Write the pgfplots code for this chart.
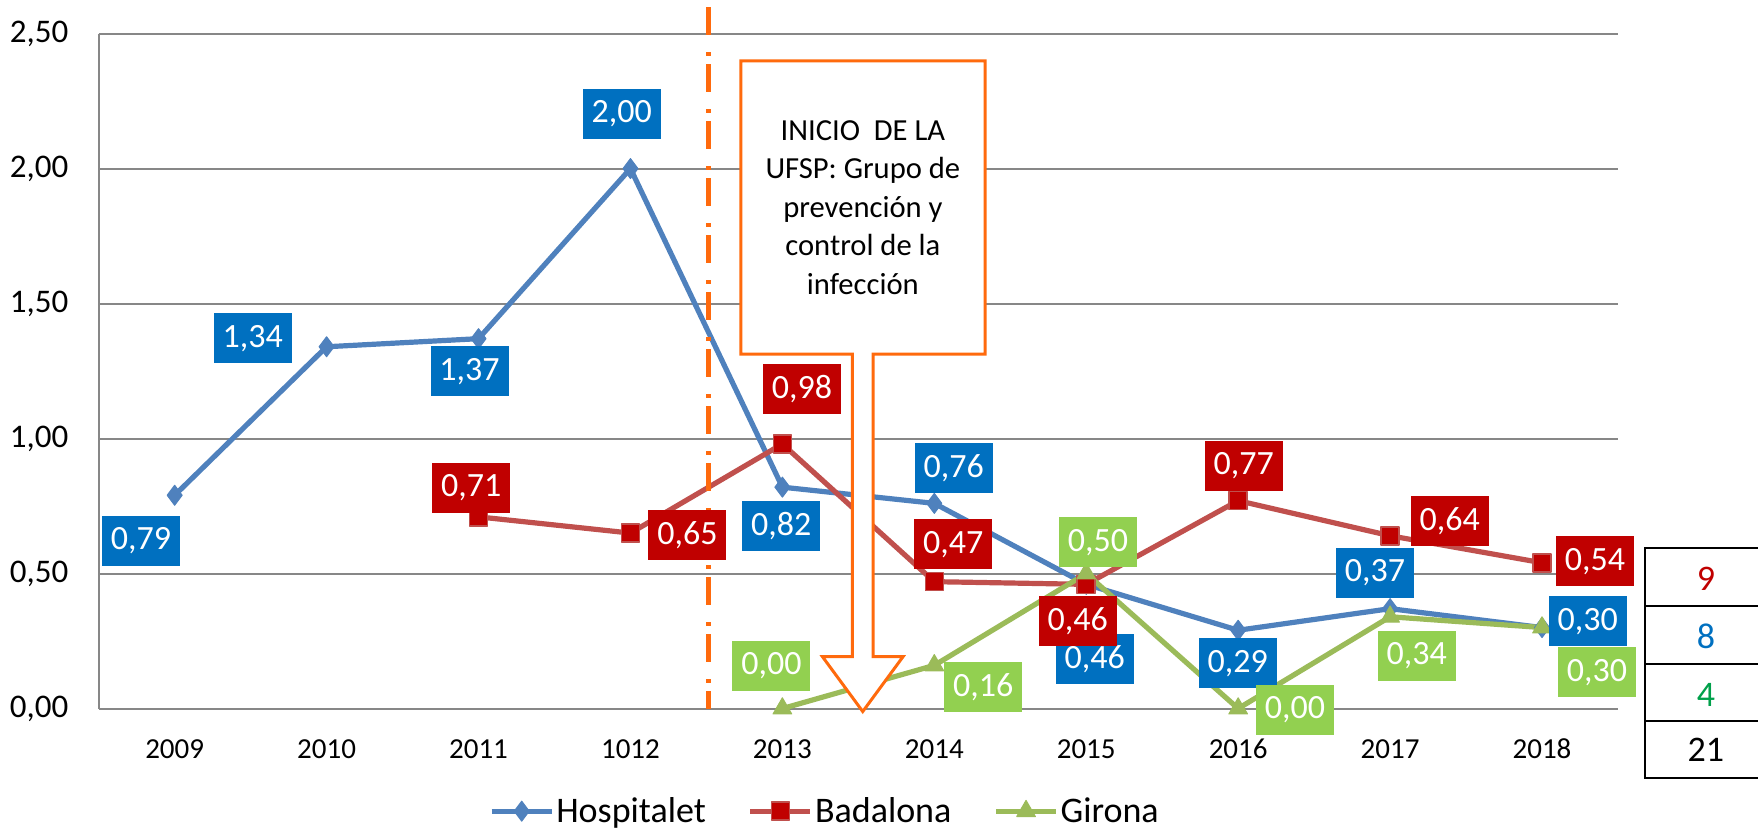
\documentclass[border=0pt]{standalone}
\usepackage{pgfplots}
\pgfplotsset{compat=1.18}
\usepackage{pgfplotstable}
\usepackage{fontspec}
\setmainfont{Carlito}

\definecolor{hospline}{HTML}{4F81BD}
\definecolor{hospbox}{HTML}{0070C0}
\definecolor{badline}{HTML}{C0504D}
\definecolor{badbox}{HTML}{C00000}
\definecolor{girline}{HTML}{9BBB59}
\definecolor{girbox}{HTML}{92D050}
\definecolor{tabgreen}{HTML}{00A04A}
\definecolor{callout}{HTML}{FF6A0D}
\definecolor{gridgray}{HTML}{878787}

% x = year index, dx/dy = label offset (pt)
\pgfplotstableread{
x y dx dy
0 0.79 -16.8 -22.8
1 1.34 -36.9 4.3
2 1.37 -4.5 -16.3
3 2.00 -4.4 27.3
4 0.82 -0.6 -19.6
5 0.76 9.7 17.7
6 0.46 4.3 -37.5
7 0.29 -0.2 -16.5
8 0.37 -7.6 18.0
9 0.30 22.9 3.2
}\hospitalet
\pgfplotstableread{
x y dx dy
2 0.71 -3.6 14.4
3 0.65 28.5 -1.1
4 0.98 9.8 27.3
5 0.47 9.5 18.7
6 0.46 -4.3 -18.2
7 0.77 2.8 17.5
8 0.64 29.8 7.2
9 0.54 26.5 0.7
}\badalona
\pgfplotstableread{
x y dx dy
4 0.00 -5.5 21.4
5 0.16 24.5 -10.8
6 0.50 5.9 15.6
7 0.00 28.4 -0.6
8 0.34 13.3 -19.4
9 0.30 27.5 -22.3
}\girona

\tikzset{
  lbl/.style={draw=none, text=white, font=\fontsize{17}{20}\selectfont,
    inner sep=0pt, minimum width=39pt, minimum height=25pt, anchor=center},
}
\pgfplotsset{
  labels/.style={draw=none, mark=none, forget plot, point meta=y,
    nodes near coords,
    visualization depends on={\thisrow{dx}\as\dx},
    visualization depends on={\thisrow{dy}\as\dy},
    every node near coord/.append style={lbl, fill=#1, xshift=\dx pt, yshift=\dy pt}},
}

\begin{document}
\begin{tikzpicture}
\begin{axis}[
  at={(0,0)}, anchor=south west,
  scale only axis, width=759.65pt, height=337.5pt,
  xmin=-0.5, xmax=9.5, ymin=0, ymax=2.5,
  clip=false,
  axis lines=left,
  axis line style={-, draw=gridgray, line width=1pt},
  xtick={0,...,9},
  xticklabels={2009,2010,2011,1012,2013,2014,2015,2016,2017,2018},
  ytick={0,0.5,1,1.5,2,2.5},
  major tick length=0pt,
  ymajorgrids, grid style={draw=gridgray, line width=1pt},
  /pgf/number format/.cd, fixed, fixed zerofill, precision=2, use comma, assume math mode=true,
  /pgfplots/.cd,
  yticklabel style={font=\fontsize{16.5}{19}\selectfont, inner sep=0pt, anchor=east, xshift=-15pt},
  xticklabel style={font=\fontsize{14.5}{17}\selectfont, inner sep=0pt, anchor=center, yshift=-20.2pt},
  legend columns=3,
  legend style={at={(0.478,-0.152)}, anchor=center, draw=none, fill=none,
    font=\fontsize{18}{21}\selectfont, nodes={inner sep=1pt},
    /tikz/every even column/.append style={column sep=20pt}},
  legend image code/.code={\draw[mark repeat=2, mark phase=2]
    plot coordinates {(0pt,0pt) (15pt,0pt) (30pt,0pt)};},
]
\addplot[color=hospline, line width=2.6pt, line join=round, mark=diamond*, mark size=5pt,
  mark options={fill=hospline, draw=hospline, line width=0.5pt}]
  table[x=x, y=y] {\hospitalet};
\addlegendentry{Hospitalet}
\addplot[color=badline, line width=2.6pt, line join=round, mark=square*, mark size=4.5pt,
  mark options={fill=badbox, draw=badline, line width=0.8pt}]
  table[x=x, y=y] {\badalona};
\addlegendentry{Badalona}
\addplot[color=girline, line width=2.6pt, line join=round, mark=triangle*, mark size=5.4pt,
  mark options={fill=girline, draw=girline, line width=0.5pt}]
  table[x=x, y=y] {\girona};
\addlegendentry{Girona}

\addplot[labels=hospbox] table[x=x, y=y] {\hospitalet};
\addplot[labels=badbox] table[x=x, y=y] {\badalona};
\addplot[labels=girbox] table[x=x, y=y] {\girona};

% start of the UFSP
\draw[callout, line width=2.4pt, dash pattern=on 14pt off 8.5pt on 2pt off 4pt]
  (axis cs:3.512,2.598) -- (axis cs:3.512,0);
\draw[callout, line width=1.5pt, fill=white, line join=miter]
  (axis cs:3.726,2.399) -- (axis cs:5.334,2.399) -- (axis cs:5.334,1.313)
  -- (axis cs:4.598,1.313) -- (axis cs:4.598,0.192) -- (axis cs:4.794,0.192)
  -- (axis cs:4.529,-0.011) -- (axis cs:4.264,0.192) -- (axis cs:4.46,0.192)
  -- (axis cs:4.46,1.313) -- (axis cs:3.726,1.313) -- cycle;
\node[align=center, font=\fontsize{15.3}{19.2}\selectfont] at (axis cs:4.53,1.856)
  {INICIO\ \ DE LA\\UFSP: Grupo de\\prevención y\\control de la\\infección};

% small totals table
\draw[line width=1pt] (axis cs:10.43,0.5937) -- (axis cs:9.68,0.5937)
  -- (axis cs:9.68,-0.2581) -- (axis cs:10.43,-0.2581);
\draw[line width=1pt] (axis cs:9.68,0.3804) -- (axis cs:10.43,0.3804);
\draw[line width=1pt] (axis cs:9.68,0.1656) -- (axis cs:10.43,0.1656);
\draw[line width=1pt] (axis cs:9.68,-0.0470) -- (axis cs:10.43,-0.0470);
\node[text=badbox, font=\fontsize{18}{21}\selectfont] at (axis cs:10.079,0.482) {9};
\node[text=hospbox, font=\fontsize{18}{21}\selectfont] at (axis cs:10.079,0.266) {8};
\node[text=tabgreen, font=\fontsize{18}{21}\selectfont] at (axis cs:10.079,0.050) {4};
\node[text=black, font=\fontsize{18}{21}\selectfont] at (axis cs:10.079,-0.153) {21};

\coordinate (BL) at (axis cs:-1.1497,-0.4681);
\coordinate (TR) at (axis cs:10.4217,2.6244);
\end{axis}
\pgfresetboundingbox
\path[use as bounding box] (BL) rectangle (TR);
\end{tikzpicture}
\end{document}
